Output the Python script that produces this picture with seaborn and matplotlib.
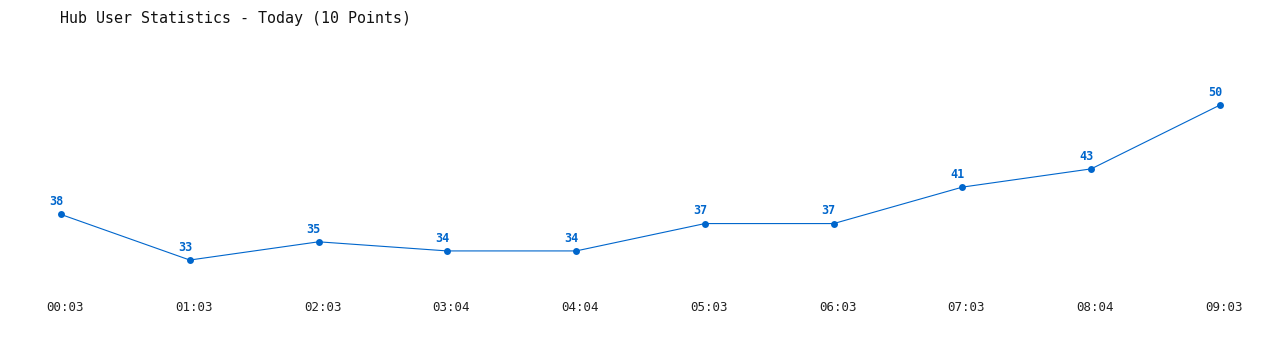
import matplotlib
matplotlib.use("Agg")
import matplotlib.pyplot as plt
import matplotlib.transforms as mtransforms
import seaborn as sns
import pandas as pd

times = ["00:03", "01:03", "02:03", "03:04", "04:04", "05:03", "06:03", "07:03", "08:04", "09:03"]
users = [38, 33, 35, 34, 34, 37, 37, 41, 43, 50]
title = "Hub User Statistics - Today (10 Points)"
color = "#0066cc"

sns.set_theme(style="white")
plt.rcParams['font.family'] = ['DejaVu Sans Mono', 'DejaVu Sans']

df = pd.DataFrame({"pos": range(len(times)), "users": users})

fig = plt.figure(figsize=(12.8, 3.5), dpi=100)
ax = fig.add_axes([61/1280, 1 - 287.4/350, (1220 - 61)/1280, (287.4 - 86.8)/350])
sns.lineplot(data=df, x="pos", y="users", ax=ax, color=color, linewidth=0.8,
             marker="o", markersize=5, markeredgewidth=0, clip_on=False)
ax.set_xlim(0, len(times) - 1)
ax.set_ylim(30, 52)
for x, v in zip(df["pos"], df["users"]):
    ax.annotate(str(v), (x, v), xytext=(-3.5, 4.5), textcoords="offset points",
                ha="center", va="bottom", fontsize=8.5, fontweight="bold", color=color)
ax.set_xticks(list(df["pos"]))
ax.set_xticklabels(times, fontsize=9, color="#222222")
ax.tick_params(axis="x", length=0, pad=10)
shift = mtransforms.ScaledTranslation(4/100, 0, fig.dpi_scale_trans)
for lbl in ax.get_xticklabels():
    lbl.set_transform(lbl.get_transform() + shift)
ax.set_yticks([])
ax.set_xlabel("")
ax.set_ylabel("")
for s in ax.spines.values():
    s.set_visible(False)
fig.text(60/1280, 1 - 18/350, title, fontsize=10.8, ha="left", va="center", color="#111111")
fig.savefig("out.png", dpi=100)
